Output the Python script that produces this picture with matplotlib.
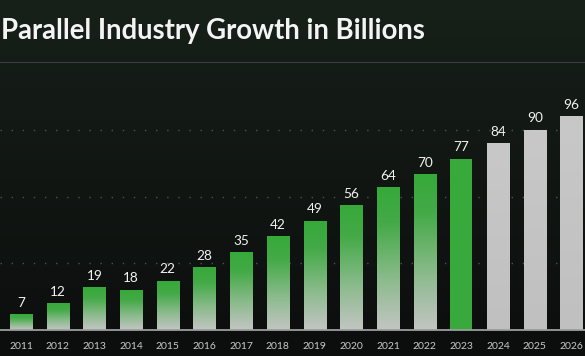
import numpy as np
import matplotlib.pyplot as plt
from matplotlib.colors import LinearSegmentedColormap

# data
years = ['2011', '2012', '2013', '2014', '2015', '2016', '2017', '2018',
         '2019', '2020', '2021', '2022', '2023', '2024', '2025', '2026']
values = [7, 12, 19, 18, 22, 28, 35, 42, 49, 56, 64, 70, 77, 84, 90, 96]
kind = ['past'] * 12 + ['now'] + ['future'] * 3
grid_vals = [30, 60, 90]
title = 'Parallel Industry Growth in Billions'

fade = LinearSegmentedColormap.from_list(
    'fade', [(0, '#c3c5c3'), (0.35, '#8cbb8d'), (0.75, '#44aa47'), (1, '#36a93a')])
grey = LinearSegmentedColormap.from_list('grey', ['#bfc0bf', '#c7c8c7'])

fig = plt.figure(figsize=(5.85, 3.56), dpi=100)

# background
bg = fig.add_axes([0, 0, 1, 1])
bg.set_axis_off()
ys = np.linspace(0, 1, 200)[:, None]
bgc = LinearSegmentedColormap.from_list('bg', ['#0c0e0d', '#111613', '#172019'])
bg.imshow(ys * np.ones((1, 10)), cmap=bgc, aspect='auto', origin='lower',
          extent=[0, 1, 0, 1])
bg.set_xlim(0, 1)
bg.set_ylim(0, 1)

ax = fig.add_axes([0, 26 / 356, 1, 330 / 356])
ax.set_facecolor('none')
step = 36.7
ax.set_axis_off()

for g in grid_vals:
    ax.axhline(g, color='#8a8f8c', lw=1, ls=(0, (1, 7)), alpha=0.5, zorder=1)
ax.axhline(120.7, color='#3a403d', lw=0.8, zorder=1)
ax.axhline(0, color='#9a9e9c', lw=1.3, zorder=4, clip_on=False)

w = 0.6
grad = np.linspace(0, 1, 256)[:, None]
for i, (y, v, k) in enumerate(zip(years, values, kind)):
    if k == 'past':
        ax.imshow(grad, cmap=fade, aspect='auto', origin='lower',
                  extent=[i - w / 2, i + w / 2, 0, v], zorder=3)
    elif k == 'future':
        ax.imshow(grad, cmap=grey, aspect='auto', origin='lower',
                  extent=[i - w / 2, i + w / 2, 0, v], zorder=3)
    else:
        ax.bar(i, v, width=w, color='#37aa3b', zorder=3)
    ax.text(i, v + 2.6, str(v), ha='center', va='bottom', color='#f2f2f2',
            fontsize=9.8, family='Lato')
    ax.text(i, -7.6, y, ha='center', va='center', color='#c9cbca',
            fontsize=7.5, family='Lato', clip_on=False)

ax.set_xlim(-21 / step, (585 - 21) / step)
ax.set_ylim(0, 330 / 2.22)

fig.text(0.002, 1 - 39 / 356, title, color='#f4f4f4', fontsize=19.8,
         family='Lato', weight='bold', ha='left', va='baseline')

fig.savefig('out.png', dpi=100)
